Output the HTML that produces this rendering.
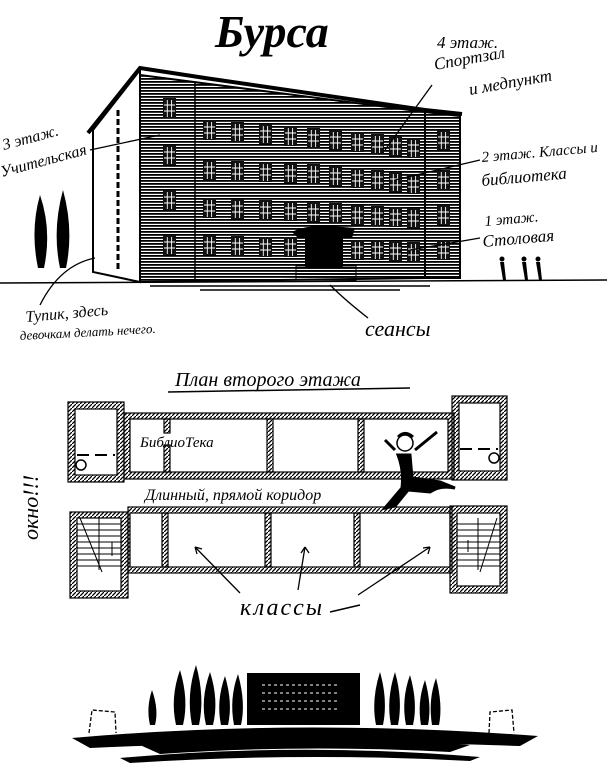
<!DOCTYPE html>
<html><head><meta charset="utf-8"><style>
html,body{margin:0;padding:0;background:#fff}
svg{display:block}
text{font-family:"Liberation Serif","DejaVu Serif",serif;font-style:italic;fill:#000}
</style></head><body>
<svg width="607" height="782" viewBox="0 0 607 782" xmlns="http://www.w3.org/2000/svg">
<defs>
<pattern id="h" width="4" height="3" patternUnits="userSpaceOnUse"><rect width="4" height="1.8" fill="#000"/></pattern>
<pattern id="d" width="4" height="4" patternUnits="userSpaceOnUse"><path d="M0 4L4 0" stroke="#000" stroke-width="1.3"/></pattern>
<g id="w"><rect x="0" y="0" width="13" height="20" fill="#111"/><path d="M4.3 2V19M8.6 2V19M1 7H12M1 13H12" stroke="#fff" stroke-width="0.9"/></g>
</defs>

<text x="215" y="47" font-size="46" font-weight="bold">Бурса</text>

<polygon points="93,130 140,70 140,282 93,272" fill="#fff" stroke="#000" stroke-width="2"/>
<line x1="118" y1="110" x2="118" y2="270" stroke="#000" stroke-width="3" stroke-dasharray="6 3"/>
<polygon points="140,75 425,112 425,278 140,282" fill="url(#h)" stroke="#000" stroke-width="2"/>
<polygon points="425,112 460,116 460,278 425,278" fill="url(#h)" stroke="#000" stroke-width="2"/>
<path d="M88,133 L140,68 L205,78 L425,110 L462,114" fill="none" stroke="#000" stroke-width="4"/>
<line x1="195" y1="82" x2="195" y2="281" stroke="#000" stroke-width="1.5"/>
<use href="#w" x="163" y="98"/><use href="#w" x="163" y="145"/><use href="#w" x="163" y="190"/><use href="#w" x="163" y="235"/>
<use href="#w" x="203" y="120"/><use href="#w" x="203" y="160"/><use href="#w" x="203" y="198"/><use href="#w" x="203" y="235"/>
<use href="#w" x="231" y="122"/><use href="#w" x="231" y="161"/><use href="#w" x="231" y="199"/><use href="#w" x="231" y="236"/>
<use href="#w" x="259" y="124"/><use href="#w" x="259" y="162"/><use href="#w" x="259" y="200"/><use href="#w" x="259" y="237"/>
<use href="#w" x="284" y="126"/><use href="#w" x="284" y="163"/><use href="#w" x="284" y="201"/><use href="#w" x="284" y="237"/>
<use href="#w" x="307" y="128"/><use href="#w" x="307" y="164"/><use href="#w" x="307" y="202"/>
<use href="#w" x="329" y="130"/><use href="#w" x="329" y="166"/><use href="#w" x="329" y="203"/>
<use href="#w" x="351" y="132"/><use href="#w" x="351" y="168"/><use href="#w" x="351" y="205"/><use href="#w" x="351" y="240"/>
<use href="#w" x="371" y="134"/><use href="#w" x="371" y="170"/><use href="#w" x="371" y="206"/><use href="#w" x="371" y="240"/>
<use href="#w" x="389" y="136"/><use href="#w" x="389" y="172"/><use href="#w" x="389" y="207"/><use href="#w" x="389" y="241"/>
<use href="#w" x="407" y="138"/><use href="#w" x="407" y="174"/><use href="#w" x="407" y="208"/><use href="#w" x="407" y="242"/>
<use href="#w" x="437" y="130"/><use href="#w" x="437" y="170"/><use href="#w" x="437" y="205"/><use href="#w" x="437" y="240"/>
<path d="M292,232 Q305,225 330,226 L355,228 L352,238 L298,238Z" fill="#000"/>
<rect x="305" y="238" width="38" height="30" fill="#000"/>
<rect x="296" y="266" width="60" height="14" fill="url(#h)" stroke="#000"/>
<line x1="0" y1="283" x2="607" y2="280" stroke="#000" stroke-width="1.5"/>
<path d="M150,286 L430,286 M200,290 L400,290" stroke="#000" stroke-width="1.5"/>
<path d="M40,195 Q30,230 38,268 L44,268 Q52,230 40,195Z" fill="#000"/>
<path d="M63,190 Q52,230 60,268 L66,268 Q74,230 63,190Z" fill="#000"/>
<path d="M500,262 l4,0 l2,18 l-3,0z M522,262 l4,0 l2,18 l-3,0z M536,262 l4,0 l2,18 l-3,0z" fill="#000"/>
<circle cx="502" cy="259" r="2.5"/><circle cx="524" cy="259" r="2.5"/><circle cx="538" cy="259" r="2.5"/>

<text x="437" y="48" font-size="17">4 этаж.</text>
<text x="435" y="70" font-size="17" transform="rotate(-10 435 70)">Спортзал</text>
<text x="470" y="95" font-size="17" transform="rotate(-10 470 95)">и медпункт</text>
<line x1="432" y1="85" x2="385" y2="150" stroke="#000" stroke-width="1.3"/>
<text x="4" y="150" font-size="16" transform="rotate(-15 4 150)">3 этаж.</text>
<text x="2" y="177" font-size="16" transform="rotate(-15 2 177)">Учительская</text>
<line x1="90" y1="150" x2="160" y2="135" stroke="#000" stroke-width="1.3"/>
<text x="482" y="162" font-size="15" transform="rotate(-5 482 162)">2 этаж. Классы и</text>
<text x="482" y="186" font-size="17" transform="rotate(-5 482 186)">библиотека</text>
<line x1="480" y1="160" x2="395" y2="180" stroke="#000" stroke-width="1.3"/>
<text x="485" y="226" font-size="15" transform="rotate(-5 485 226)">1 этаж.</text>
<text x="483" y="247" font-size="17" transform="rotate(-5 483 247)">Столовая</text>
<line x1="480" y1="238" x2="410" y2="250" stroke="#000" stroke-width="1.3"/>
<text x="26" y="322" font-size="16" transform="rotate(-5 26 322)">Тупик, здесь</text>
<text x="20" y="340" font-size="13" transform="rotate(-3 20 340)">девочкам делать нечего.</text>
<path d="M40,305 Q60,265 95,258" fill="none" stroke="#000" stroke-width="1.3"/>
<text x="365" y="336" font-size="22">сеансы</text>
<path d="M368,318 Q345,300 330,285" fill="none" stroke="#000" stroke-width="1.3"/>

<text x="175" y="386" font-size="20">План второго этажа</text>
<line x1="168" y1="392" x2="410" y2="388" stroke="#000" stroke-width="1.5"/>

<g stroke="#000" stroke-width="1.2">
<rect x="68" y="402" width="56" height="80" fill="url(#d)"/>
<rect x="75" y="409" width="42" height="66" fill="#fff"/>
<rect x="124" y="413" width="330" height="66" fill="url(#d)"/>
<rect x="130" y="419" width="318" height="53" fill="#fff"/>
<rect x="452" y="396" width="55" height="84" fill="url(#d)"/>
<rect x="459" y="403" width="41" height="68" fill="#fff"/>
<rect x="164" y="419" width="6" height="14" fill="url(#d)"/><rect x="164" y="445" width="6" height="27" fill="url(#d)"/>
<rect x="267" y="419" width="6" height="53" fill="url(#d)"/>
<rect x="358" y="419" width="6" height="53" fill="url(#d)"/>
</g>
<line x1="77" y1="455" x2="115" y2="455" stroke="#000" stroke-width="2" stroke-dasharray="12 6"/>
<line x1="460" y1="449" x2="498" y2="449" stroke="#000" stroke-width="2" stroke-dasharray="12 6"/>
<circle cx="81" cy="465" r="5" fill="none" stroke="#000" stroke-width="1.5"/><circle cx="494" cy="458" r="5" fill="none" stroke="#000" stroke-width="1.5"/>
<text x="140" y="447" font-size="15">БиблиоТека</text>
<text x="145" y="500" font-size="16">Длинный, прямой коридор</text>
<g stroke="#000" stroke-width="1.2">
<rect x="70" y="512" width="58" height="86" fill="url(#d)"/>
<rect x="77" y="518" width="44" height="73" fill="#fff"/>
<rect x="128" y="507" width="324" height="66" fill="url(#d)"/>
<rect x="130" y="513" width="320" height="54" fill="#fff"/>
<rect x="450" y="506" width="57" height="87" fill="url(#d)"/>
<rect x="457" y="513" width="43" height="73" fill="#fff"/>
<rect x="162" y="513" width="6" height="54" fill="url(#d)"/>
<rect x="265" y="513" width="6" height="54" fill="url(#d)"/>
<rect x="354" y="513" width="6" height="54" fill="url(#d)"/>
</g>
<path d="M77,524H121M77,530H121M77,536H121M77,542H121M77,548H121M77,554H121M77,560H121M77,566H121M99,518V570M80,518L102,572M112,542V556" stroke="#000" stroke-width="1"/>
<path d="M457,524H500M457,530H500M457,536H500M457,542H500M457,548H500M457,554H500M457,560H500M457,566H500M478,518V570M497,518L480,572M468,540V552" stroke="#000" stroke-width="1"/>
<path d="M395,450 L385,440 M415,450 L437,432 M398,455 Q404,470 402,488 L385,508 L395,506 L408,490 L430,492 Q440,485 455,488 L440,482 L412,478 L410,455 Z" fill="#000" stroke="#000" stroke-width="3"/>
<circle cx="405" cy="443" r="8" fill="#fff" stroke="#000" stroke-width="1.5"/>
<path d="M398,437 Q405,430 413,437" stroke="#000" stroke-width="3" fill="none"/>
<text x="38" y="540" font-size="22" transform="rotate(-90 38 540)">окно!!!</text>
<g stroke="#000" stroke-width="1.3" fill="none">
<path d="M240,593 L195,547 M195,547 l2,7 M195,547 l7,2"/>
<path d="M298,590 L305,547 M305,547 l-4,6 M305,547 l4,6"/>
<path d="M358,595 L430,547 M430,547 l-7,1 M430,547 l-2,7"/>
</g>
<text x="240" y="615" font-size="24" letter-spacing="2">классы</text>
<line x1="330" y1="612" x2="360" y2="605" stroke="#000" stroke-width="1.5"/>

<rect x="247" y="673" width="113" height="52" fill="#000"/>
<path d="M262,685H340M262,693H340M262,701H340M262,709H340" stroke="#fff" stroke-width="1" stroke-dasharray="3 3"/>
<g fill="#000">
<path d="M152,690 q-6,18 -2,35 h5 q4,-15 -3,-35z"/>
<path d="M180,670 q-10,28 -4,55 h7 q6,-25 -3,-55z"/>
<path d="M196,665 q-10,30 -4,60 h7 q6,-28 -3,-60z"/>
<path d="M210,672 q-10,28 -4,53 h7 q6,-25 -3,-53z"/>
<path d="M225,676 q-9,25 -4,49 h7 q5,-22 -3,-49z"/>
<path d="M238,674 q-9,25 -4,51 h7 q5,-22 -3,-51z"/>
<path d="M380,672 q-9,28 -4,53 h7 q5,-25 -3,-53z"/>
<path d="M395,672 q-9,28 -4,53 h7 q5,-25 -3,-53z"/>
<path d="M410,675 q-9,25 -4,50 h7 q5,-22 -3,-50z"/>
<path d="M425,680 q-8,22 -4,45 h7 q4,-20 -3,-45z"/>
<path d="M436,678 q-8,22 -4,47 h7 q4,-20 -3,-47z"/>
<path d="M72,738 Q300,718 538,736 L520,746 Q300,738 90,748Z"/>
<path d="M140,745 Q300,728 470,745 L450,752 Q300,744 160,754Z"/>
<path d="M120,758 Q300,742 480,757 L470,761 Q300,752 130,763Z"/>
</g>
<path d="M89,733 L92,710 L115,712 L116,733 M489,733 L490,712 L512,710 L514,733" fill="none" stroke="#000" stroke-width="1.3" stroke-dasharray="4 2"/>
</svg>
</body></html>
